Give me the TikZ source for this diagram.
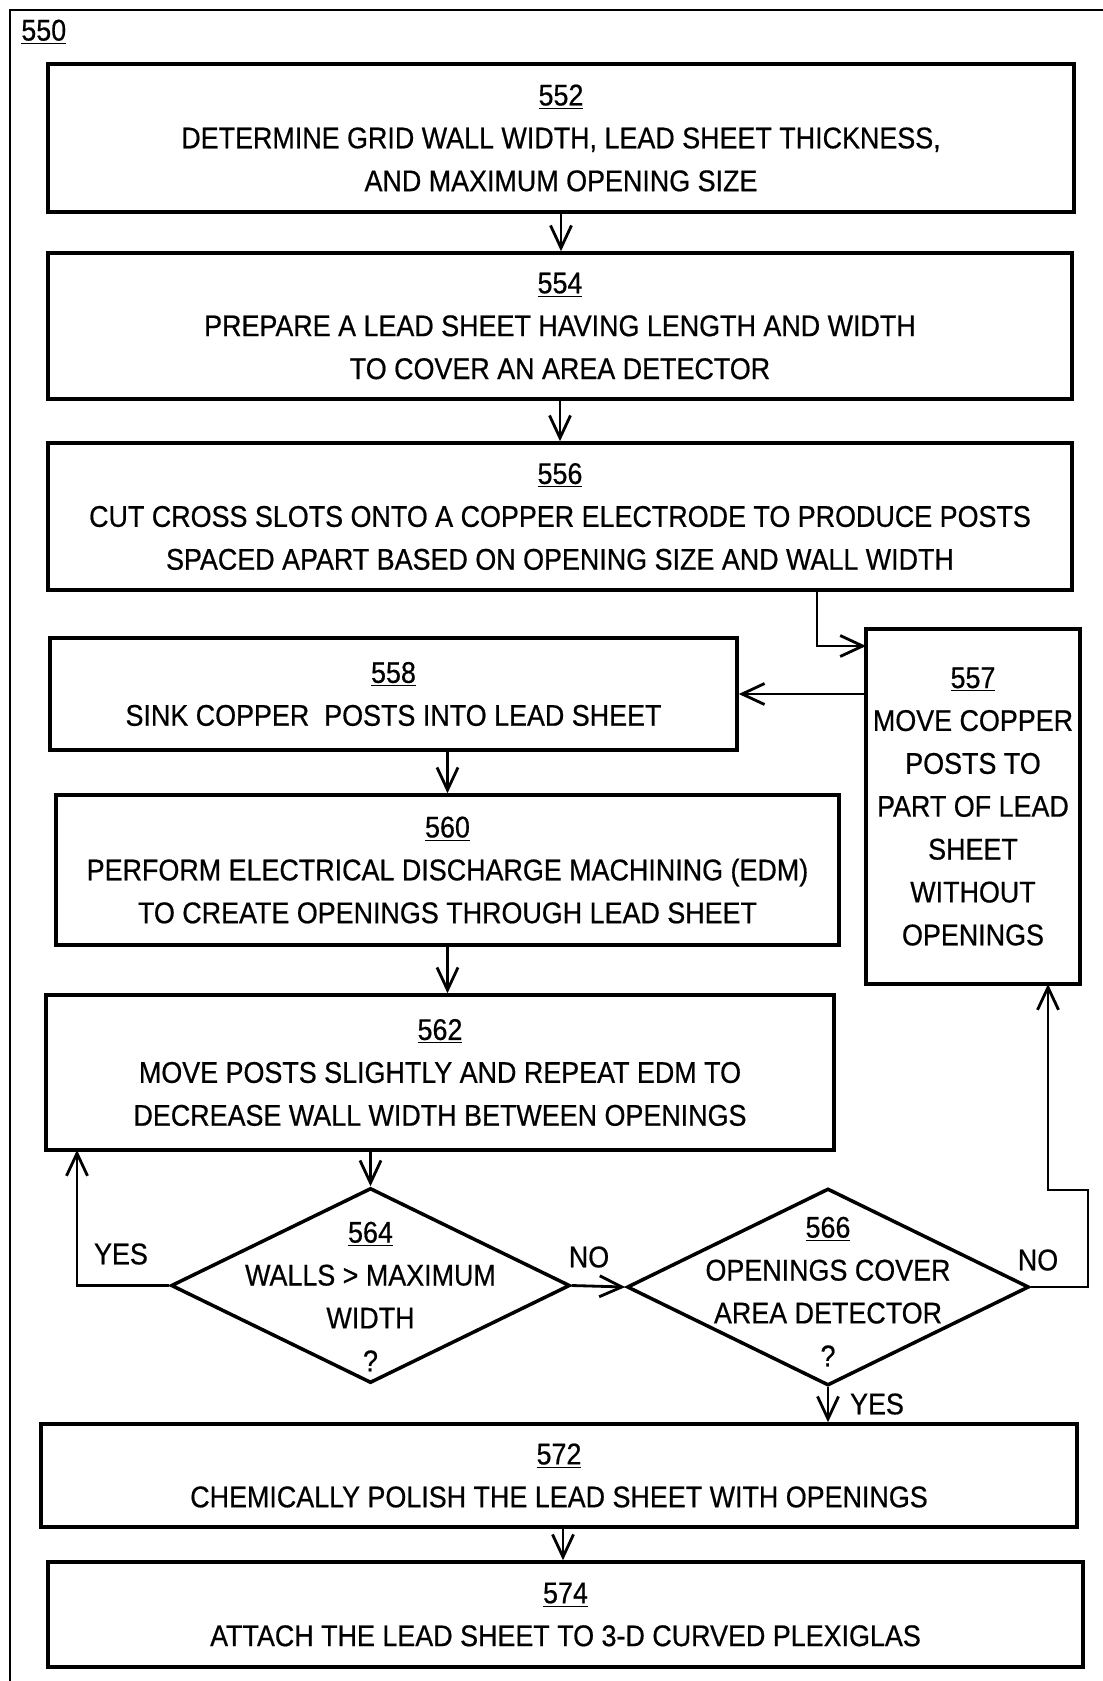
\documentclass[tikz,border=0pt]{standalone}
\usepackage{fontspec}
\setmainfont[FakeStretch=0.9, FakeBold=0.6]{Liberation Sans}
\usepackage{tikz}
\usetikzlibrary{arrows.meta, positioning, shapes.geometric, calc}

\begin{document}
\begin{tikzpicture}[
    box/.style={draw, line width=2pt, align=center, inner sep=0pt, font=\fontsize{17}{24.4}\selectfont},
    dec/.style={draw, diamond, line width=2pt, inner sep=0pt},
    txt/.style={align=center, inner sep=0pt, font=\fontsize{17}{24.4}\selectfont},
    arr/.style={-{Straight Barb[length=0.45cm, width=0.42cm]}, line width=1.6pt}
  ]
  \useasboundingbox (0,0) rectangle (22.06,-33.62);
  \draw[line width=1.2pt] (0.2,-33.62) |- (22.06,-0.2);
  \node[txt, anchor=west] (n550) at (0.42,-0.64) {\underline{550}};

  % main column
  \node[box, minimum width=20.52cm, minimum height=2.96cm] (n552) at (11.22,-2.76)
    {\underline{552}\\ DETERMINE GRID WALL WIDTH, LEAD SHEET THICKNESS,\\ AND MAXIMUM OPENING SIZE};
  \node[box, minimum width=20.48cm, minimum height=2.92cm] (n554) at (11.2,-6.52)
    {\underline{554}\\ PREPARE A LEAD SHEET HAVING LENGTH AND WIDTH\\ TO COVER AN AREA DETECTOR};
  \node[box, minimum width=20.48cm, minimum height=2.94cm] (n556) at (11.2,-10.33)
    {\underline{556}\\ CUT CROSS SLOTS ONTO A COPPER ELECTRODE TO PRODUCE POSTS\\ SPACED APART BASED ON OPENING SIZE AND WALL WIDTH};
  \node[box, minimum width=4.28cm, minimum height=7.1cm] (n557) at (19.46,-16.13)
    {\underline{557}\\ MOVE COPPER\\ POSTS TO\\ PART OF LEAD\\ SHEET\\ WITHOUT\\ OPENINGS};
  \node[box, minimum width=13.74cm, minimum height=2.24cm] (n558) at (7.87,-13.88)
    {\underline{558}\\ SINK COPPER\ \ POSTS INTO LEAD SHEET};
  \node[box, minimum width=15.66cm, minimum height=3cm] (n560) at (8.95,-17.4)
    {\underline{560}\\ PERFORM ELECTRICAL DISCHARGE MACHINING (EDM)\\ TO CREATE OPENINGS THROUGH LEAD SHEET};
  \node[box, minimum width=15.76cm, minimum height=3.1cm] (n562) at (8.8,-21.45)
    {\underline{562}\\ MOVE POSTS SLIGHTLY AND REPEAT EDM TO\\ DECREASE WALL WIDTH BETWEEN OPENINGS};

  % decisions
  \node[dec, minimum width=7.98cm, minimum height=3.9cm] (n564) at (7.41,-25.71) {};
  \node[txt] (t564) at (7.41,-25.93) {\underline{564}\\ WALLS > MAXIMUM\\ WIDTH\\ ?};
  \node[dec, minimum width=8.04cm, minimum height=3.94cm] (n566) at (16.56,-25.74) {};
  \node[txt] (t566) at (16.56,-25.83) {\underline{566}\\ OPENINGS COVER\\ AREA DETECTOR\\ ?};

  \node[box, minimum width=20.72cm, minimum height=2.06cm] (n572) at (11.18,-29.51)
    {\underline{572}\\ CHEMICALLY POLISH THE LEAD SHEET WITH OPENINGS};
  \node[box, minimum width=20.7cm, minimum height=2.1cm] (n574) at (11.31,-32.29)
    {\underline{574}\\ ATTACH THE LEAD SHEET TO 3-D CURVED PLEXIGLAS};

  % labels
  \node[txt] (yes1) at (2.42,-25.08) {YES};
  \node[txt] (no1) at (11.78,-25.14) {NO};
  \node[txt] (no2) at (20.76,-25.2) {NO};
  \node[txt] (yes2) at (17.54,-28.08) {YES};

  % bends
  \coordinate (k1) at (21.76,-23.8);
  \coordinate (k2) at (20.96,-19.68);
  \coordinate (k3) at (1.54,-23.0);
  \coordinate (k4) at (16.34,-11.8);
  \coordinate (k5) at (17.32,-12.92);

  \draw[arr] (n552.south) -- (n552.south |- n554.north);
  \draw[arr] (n554.south) -- (n556.north);
  \draw[arr] (k4) |- (k5);
  \draw[arr] (n557.west |- n558.east) -- (n558.east);
  \draw[arr] (n558.south -| n560.north) -- (n560.north);
  \draw[arr] (n560.south) -- (n560.south |- n562.north);
  \draw[arr] (n562.south -| n564.north) -- (n564.north);
  \draw[arr] (n564.west) -| (k3);
  \draw[arr] (n564.east) -- (n566.west);
  \draw[arr] (n566.east) -| (k1) -| (k2);
  \draw[arr] (n566.south) -- (n566.south |- n572.north);
  \draw[arr] (n572.south -| 11.26,0) -- (n574.north -| 11.26,0);
\end{tikzpicture}
\end{document}
